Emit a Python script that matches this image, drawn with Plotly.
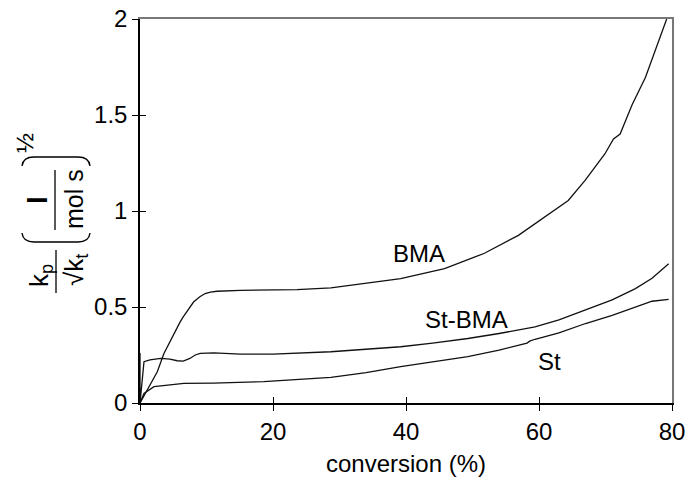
import plotly.graph_objects as go

# ---- data ----
bma_x = [0, 1.1, 2.6, 3.6, 4.6, 6.0, 6.5, 8.05, 9.0, 9.8, 10.6, 11.6, 15.1, 20, 23.6, 28.7, 34,
         39.2, 45.8, 51.8, 56.9, 60.9, 64.4, 66.9, 68.4, 69.9, 71.2, 72.2, 74.0, 76.0, 79.2]
bma_y = [0, 0.068, 0.163, 0.258, 0.327, 0.42, 0.448, 0.526, 0.553, 0.57, 0.578, 0.582, 0.587, 0.587,
         0.59, 0.60, 0.623, 0.648, 0.70, 0.78, 0.873, 0.968, 1.055, 1.158, 1.228, 1.297, 1.375, 1.401,
         1.553, 1.695, 2.0]

stbma_x = [0, 0, 0.6, 1.5, 3.1, 4.5, 5.6, 6.5, 7.5, 8.3, 9.06, 11.1, 15.1, 20, 28.7, 34, 39.2, 44,
           49.3, 54, 59.4, 63, 67, 71, 74.5, 77, 79.5]
stbma_y = [0.26, 0, 0.215, 0.225, 0.232, 0.228, 0.22, 0.218, 0.232, 0.25, 0.258, 0.261, 0.255, 0.255,
           0.267, 0.28, 0.293, 0.312, 0.336, 0.362, 0.396, 0.433, 0.483, 0.537, 0.596, 0.65, 0.725]

st_x = [0, 0.6, 2.1, 4.1, 6.6, 11, 18.6, 28.7, 34, 39.2, 44, 49.3, 54, 58.2, 58.6, 59.4, 63, 67, 71,
        74.5, 77, 79.5]
st_y = [0, 0.05, 0.085, 0.093, 0.102, 0.104, 0.111, 0.133, 0.158, 0.189, 0.213, 0.241, 0.275, 0.312,
        0.322, 0.332, 0.365, 0.414, 0.457, 0.50, 0.53, 0.54]

series_names = ["BMA", "St-BMA", "St"]
label_x = [41.9, 49.1, 61.6]
label_y = [0.778, 0.435, 0.215]

x_ticks = [0, 20, 40, 60, 80]
x_ticktext = ["0", "20", "40", "60", "80"]
y_ticks = [0, 0.5, 1, 1.5, 2]
y_ticktext = ["0", "0.5", "1", "1.5", "2"]

FONT = "Liberation Sans, Arial, Helvetica, sans-serif"

fig = go.Figure()
for xs, ys, nm in [(bma_x, bma_y, series_names[0]), (stbma_x, stbma_y, series_names[1]),
                   (st_x, st_y, series_names[2])]:
    fig.add_trace(go.Scatter(x=xs, y=ys, mode="lines", name=nm,
                             line=dict(color="#111111", width=1.3), showlegend=False,
                             hoverinfo="skip"))

# helper traces for the overlay axes (inside ticks, gray top/right frame)
fig.add_trace(go.Scatter(x=[None], y=[None], xaxis="x2", yaxis="y2", showlegend=False, hoverinfo="skip"))
fig.add_trace(go.Scatter(x=[None], y=[None], xaxis="x3", yaxis="y3", showlegend=False, hoverinfo="skip"))

common = dict(showgrid=False, zeroline=False, automargin=False)
fig.update_layout(
    width=686, height=478,
    margin=dict(l=140, r=14, t=19, b=75),
    paper_bgcolor="white", plot_bgcolor="white",
    font=dict(family=FONT, color="black", size=24),
    xaxis=dict(range=[0, 80], tickvals=x_ticks, ticktext=x_ticktext, ticks="outside", ticklen=6,
               tickwidth=1.2, tickcolor="black", showline=True, linecolor="black", linewidth=1.5,
               tickfont=dict(size=24),
               title=dict(text="conversion (%)", font=dict(size=24), standoff=12), **common),
    yaxis=dict(range=[0, 2], tickvals=y_ticks, ticktext=y_ticktext, ticks="outside", ticklen=6,
               tickwidth=1.2, tickcolor="black", showline=True, linecolor="black", linewidth=1.5,
               tickfont=dict(size=24), **common),
    xaxis2=dict(overlaying="x", anchor="y2", side="bottom", range=[0, 80], tickvals=x_ticks,
                ticks="inside", ticklen=6, tickwidth=1.2, tickcolor="black",
                showticklabels=False, showline=False, **common),
    yaxis2=dict(overlaying="y", anchor="x2", side="left", range=[0, 2], tickvals=y_ticks,
                ticks="inside", ticklen=6, tickwidth=1.2, tickcolor="black",
                showticklabels=False, showline=False, **common),
    xaxis3=dict(overlaying="x", anchor="y3", side="top", range=[0, 80], ticks="",
                showticklabels=False, showline=True, linecolor="#777777", linewidth=1.5, **common),
    yaxis3=dict(overlaying="y", anchor="x3", side="right", range=[0, 2], ticks="",
                showticklabels=False, showline=True, linecolor="#777777", linewidth=1.5, **common),
)

# curve labels
for nm, lx, ly in zip(series_names, label_x, label_y):
    fig.add_annotation(x=lx, y=ly, xref="x", yref="y", text=nm, showarrow=False,
                       font=dict(size=24, family=FONT))

# y-axis title built from rotated text pieces (paper coordinates)
def px2paper(px, py):
    return (px - 140) / 532.0, (403 - py) / 384.0

def rot_text(px, py, text, size):
    x, y = px2paper(px, py)
    fig.add_annotation(x=x, y=y, xref="paper", yref="paper", text=text, textangle=-90,
                       showarrow=False, xanchor="center", yanchor="middle",
                       font=dict(size=size, family=FONT))

rot_text(40, 276, "k<sub>p</sub>", 26)
rot_text(75, 270, "√k<sub>t</sub>", 26)
rot_text(37, 200, "<b>l</b>", 28)
rot_text(74, 199, "mol s", 25)
rot_text(24, 143, "½", 24)

def pth(points):
    s = ""
    for cmd, pts in points:
        s += cmd + " " + " ".join("%.5f,%.5f" % px2paper(a, b) for a, b in pts) + " "
    return s.strip()

# fraction bars of the axis title
for px, py0, py1 in [(56, 250, 293), (55, 170, 230)]:
    fig.add_shape(type="path", xref="paper", yref="paper",
                  path=pth([("M", [(px, py0)]), ("L", [(px, py1)])]),
                  line=dict(color="black", width=1.3))

# large parentheses around the unit fraction
fig.add_shape(type="path", xref="paper", yref="paper",
              path=pth([("M", [(22, 166)]), ("Q", [(23, 157), (34, 157)]), ("L", [(78, 157)]),
                        ("Q", [(89, 157), (90, 166)])]),
              line=dict(color="black", width=1.4))
fig.add_shape(type="path", xref="paper", yref="paper",
              path=pth([("M", [(22, 233)]), ("Q", [(23, 242), (34, 242)]), ("L", [(78, 242)]),
                        ("Q", [(89, 242), (90, 233)])]),
              line=dict(color="black", width=1.4))

fig.write_html("out.html", config={"displayModeBar": False},
               post_script="document.body.style.margin='0';document.body.style.overflow='hidden';")
